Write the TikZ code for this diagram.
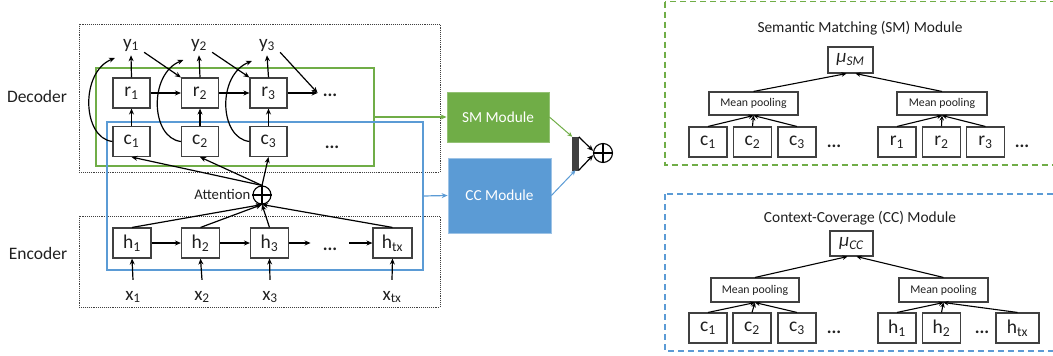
\documentclass[tikz,border=0pt]{standalone}
\usepackage{fontspec}
\setmainfont{Carlito}
\usetikzlibrary{arrows.meta,calc}
\definecolor{sg}{HTML}{70AD47}
\definecolor{sb}{HTML}{5B9BD5}
\definecolor{bx}{HTML}{404040}
\definecolor{tx}{HTML}{202020}
\begin{document}
\begin{tikzpicture}[x=1pt,y=-1pt,
  box/.style={draw=bx,line width=1.1pt,minimum width=37pt,minimum height=30pt,inner sep=0pt,text=tx,font=\fontsize{19.5}{22}\selectfont},
  lbl/.style={inner sep=1pt,text=tx,font=\fontsize{19}{22}\selectfont},
  dotsn/.style={inner sep=0pt,text=tx,font=\fontsize{18}{20}\selectfont\bfseries},
  arr/.style={line width=1.2pt,-{Stealth[length=6pt,width=5pt]}},
  sarr/.style={line width=1.1pt,-{Stealth[length=5pt,width=4.5pt]}},
  frame/.style={draw=bx,densely dotted,line width=0.9pt},
  mpool/.style={box,minimum width=89pt,minimum height=23pt,font=\fontsize{11.8}{14}\selectfont},
  mubox/.style={box,minimum width=45pt,minimum height=26pt,font=\fontsize{19}{22}\selectfont},
  title/.style={inner sep=0pt,text=tx,font=\fontsize{15.4}{18}\selectfont},
  module/.style={inner sep=0pt,text=white,font=\fontsize{15.3}{18}\selectfont,line width=0.8pt},
  opl/.style={circle,draw=black,line width=1.1pt,minimum size=19pt,inner sep=0pt}
]
\useasboundingbox (0,0) rectangle (1053,356);

% ---------- side labels ----------
\node[lbl,font=\fontsize{17.5}{20}\selectfont] (declbl) at (37,96) {Decoder};
\node[lbl,font=\fontsize{17.5}{20}\selectfont] (enclbl) at (38,253) {Encoder};

% ---------- dotted frames ----------
\draw[frame] (79,24) rectangle (440,172);
\draw[frame] (79,216) rectangle (440,307);

% ---------- green and blue boxes ----------
\node[draw=sg,line width=1.2pt,minimum width=278pt,minimum height=98pt,inner sep=0pt] (gbox) at (235,117) {};
\node[draw=sb,line width=1.2pt,minimum width=316pt,minimum height=148pt,inner sep=0pt] (bbox) at (265,196) {};

% ---------- decoder ----------
\node[box] (r1) at (131.5,93) {r\textsubscript{1}};
\node[box] (r2) at (200,93) {r\textsubscript{2}};
\node[box] (r3) at (268.5,93) {r\textsubscript{3}};
\node[box] (c1) at (131.5,141.5) {c\textsubscript{1}};
\node[box] (c2) at (200,141.5) {c\textsubscript{2}};
\node[box] (c3) at (268.5,141.5) {c\textsubscript{3}};
\node[lbl] (y1) at (131,45) {y\textsubscript{1}};
\node[lbl] (y2) at (199,45) {y\textsubscript{2}};
\node[lbl] (y3) at (267,45) {y\textsubscript{3}};
\node[dotsn,inner xsep=5pt] (rdots) at (330,95) {...};
\node[dotsn] (cdots) at (332,147) {...};

\foreach \i in {1,2,3}{
  \draw[arr] (r\i.north) -- ([yshift=-3pt]y\i.south);
  \draw[arr] (c\i.north) -- (r\i.south);
}
\draw[arr] (r1.east) -- (r2.west);
\draw[arr] (r2.east) -- (r3.west);
\draw[arr] (r3.east) -- (r3.east -| rdots.west);
\draw[arr] ($(y1.south east)+(4,0)$) -- (r2.north west);
\draw[arr] ($(y2.south east)+(4,0)$) -- (r3.north west);
\draw[arr] ($(y3.south east)+(4,0)$) -- (r3.east -| rdots.west);

\coordinate (ya1) at (115,58);
\coordinate (ya2) at (183.5,60);
\coordinate (ya3) at (252,61);
\draw[arr] (c1.west) .. controls (82,138) and (80,72) .. (ya1);
\draw[arr] (c2.west) .. controls (150.5,138) and (148.5,74) .. (ya2);
\draw[arr] (c3.west) .. controls (219,138) and (217,75) .. (ya3);

% ---------- attention ----------
\node[opl,minimum size=18pt] (att) at (262,195) {};
\draw[line width=1.1pt] (att.west) -- (att.east);
\draw[line width=1.1pt] (att.north) -- (att.south);
\node[title,font=\fontsize{14.7}{18}\selectfont,anchor=east] (attl) at ([xshift=-2pt,yshift=1pt]att.west) {Attention};
\draw[arr] (att.north) -- (c1.south);
\draw[arr] (att.north) -- (c2.south);
\draw[arr] (att.north) -- (c3.south);

% ---------- encoder ----------
\node[box,minimum width=38pt] (h1) at (132,243) {h\textsubscript{1}};
\node[box,minimum width=38pt] (h2) at (200.5,243) {h\textsubscript{2}};
\node[box,minimum width=38pt] (h3) at (269.5,243) {h\textsubscript{3}};
\node[box,minimum width=39pt] (htx) at (392.5,243) {h\textsubscript{tx}};
\node[dotsn,inner xsep=12pt] (hdots) at (330,249) {...};
\draw[arr] (h1.east) -- (h2.west);
\draw[arr] (h2.east) -- (h3.west);
\draw[arr] (h3.east) -- (h3.east -| hdots.west);
\draw[arr] (htx.west -| hdots.east) -- (htx.west);
\foreach \h in {h1,h2,h3,htx}{
  \draw[arr] (\h.north) -- (att.south);
}
\node[lbl] (x1) at (133,297) {x\textsubscript{1}};
\node[lbl] (x2) at (202,297) {x\textsubscript{2}};
\node[lbl] (x3) at (270,297) {x\textsubscript{3}};
\node[lbl] (xtx) at (392,297) {x\textsubscript{tx}};
\draw[arr] ($(x1.north)+(0,-10)$) -- (h1.south);
\draw[arr] ($(x2.north)+(0,-10)$) -- (h2.south);
\draw[arr] ($(x3.north)+(0,-10)$) -- (h3.south);
\draw[arr] ($(xtx.north)+(0,-10)$) -- (htx.south);

% ---------- modules ----------
\node[module,fill=sg,draw=sg!75!white,minimum width=102pt,minimum height=50pt] (SM) at (498,117) {SM Module};
\node[module,fill=sb,draw=sb!60!white,minimum width=103pt,minimum height=75pt] (CC) at (499.5,195.5) {CC Module};
\draw[sg,line width=1.2pt,-{Stealth[length=6pt,width=5pt]}] (gbox.east) -- (SM.west);
\draw[sb,line width=1.2pt,-{Stealth[length=6pt,width=5pt]}] (bbox.east) -- (CC.west);

\node[fill=bx,draw=bx,line width=0.5pt,minimum width=6pt,minimum height=33pt,inner sep=0pt] (bar) at (575.5,153.5) {};
\node[opl] (op) at (603,153) {};
\draw[line width=1.1pt] (op.west) -- (op.east);
\draw[line width=1.1pt] (op.north) -- (op.south);
\draw[sg,line width=1pt,-{Stealth[length=5pt,width=4.5pt]}] (SM.east) -- (bar.north west);
\draw[sb,line width=1pt,-{Stealth[length=5pt,width=4.5pt]}] (CC.east) -- (bar.south);
\draw[arr] (bar.north east) -- (op.168);
\draw[arr] (bar.south east) -- (op.192);

% ---------- SM panel ----------
\draw[sg,line width=1.3pt,dash pattern=on 6pt off 4pt] (665,1.5) rectangle (1062,165);
\node[title] (smt) at (860,28) {Semantic Matching (SM) Module};
\node[mubox] (musm) at (850.5,60) {\textit{μ}\textsubscript{\textit{SM}}};
\node[mpool] (mp1) at (753.5,103.5) {Mean pooling};
\node[mpool,minimum width=90pt] (mp2) at (942,103.5) {Mean pooling};
\node[box,minimum width=38pt] (sc1) at (708,142) {c\textsubscript{1}};
\node[box,minimum width=38pt] (sc2) at (752.5,142) {c\textsubscript{2}};
\node[box,minimum width=38pt] (sc3) at (797,142) {c\textsubscript{3}};
\node[dotsn] (scd) at (834,146) {...};
\node[box,minimum width=38pt] (sr1) at (897,142) {r\textsubscript{1}};
\node[box,minimum width=38pt] (sr2) at (941.5,142) {r\textsubscript{2}};
\node[box,minimum width=38pt] (sr3) at (985.5,142) {r\textsubscript{3}};
\node[dotsn] (srd) at (1022,146) {...};
\foreach \n in {sc1,sc2,sc3}{\draw[sarr] (\n.north) -- (mp1.south);}
\foreach \n in {sr1,sr2,sr3}{\draw[sarr] (\n.north) -- (mp2.south);}
\draw[sarr] (mp1.north) -- ([xshift=-4pt]musm.south);
\draw[sarr] (mp2.north) -- ([xshift=5pt]musm.south);

% ---------- CC panel ----------
\draw[sb,line width=1.3pt,dash pattern=on 6pt off 4pt] (665,194) rectangle (1062,351);
\node[title] (cct) at (860,218) {Context-Coverage (CC) Module};
\node[mubox,minimum width=43pt,minimum height=25pt] (mucc) at (851.5,243.5) {\textit{μ}\textsubscript{\textit{CC}}};
\node[mpool,minimum width=88pt,minimum height=24pt] (mp3) at (755,290) {Mean pooling};
\node[mpool,minimum width=89pt,minimum height=24pt] (mp4) at (943.5,290) {Mean pooling};
\node[box,minimum width=38pt] (cc1) at (708,328) {c\textsubscript{1}};
\node[box,minimum width=38pt] (cc2) at (752,328) {c\textsubscript{2}};
\node[box,minimum width=38pt] (cc3) at (797,328) {c\textsubscript{3}};
\node[dotsn] (ccd) at (834,332) {...};
\node[box,minimum width=38pt] (ch1) at (897,328) {h\textsubscript{1}};
\node[box,minimum width=38pt] (ch2) at (941.5,328) {h\textsubscript{2}};
\node[dotsn] (chd) at (982,332) {...};
\node[box,minimum width=43pt] (chtx) at (1017.5,328) {h\textsubscript{tx}};
\foreach \n in {cc1,cc2,cc3}{\draw[sarr] (\n.north) -- (mp3.south);}
\foreach \n in {ch1,ch2,chtx}{\draw[sarr] (\n.north) -- (mp4.south);}
\draw[sarr] (mp3.north) -- ([xshift=-4pt]mucc.south);
\draw[sarr] (mp4.north) -- ([xshift=5pt]mucc.south);
\end{tikzpicture}
\end{document}
